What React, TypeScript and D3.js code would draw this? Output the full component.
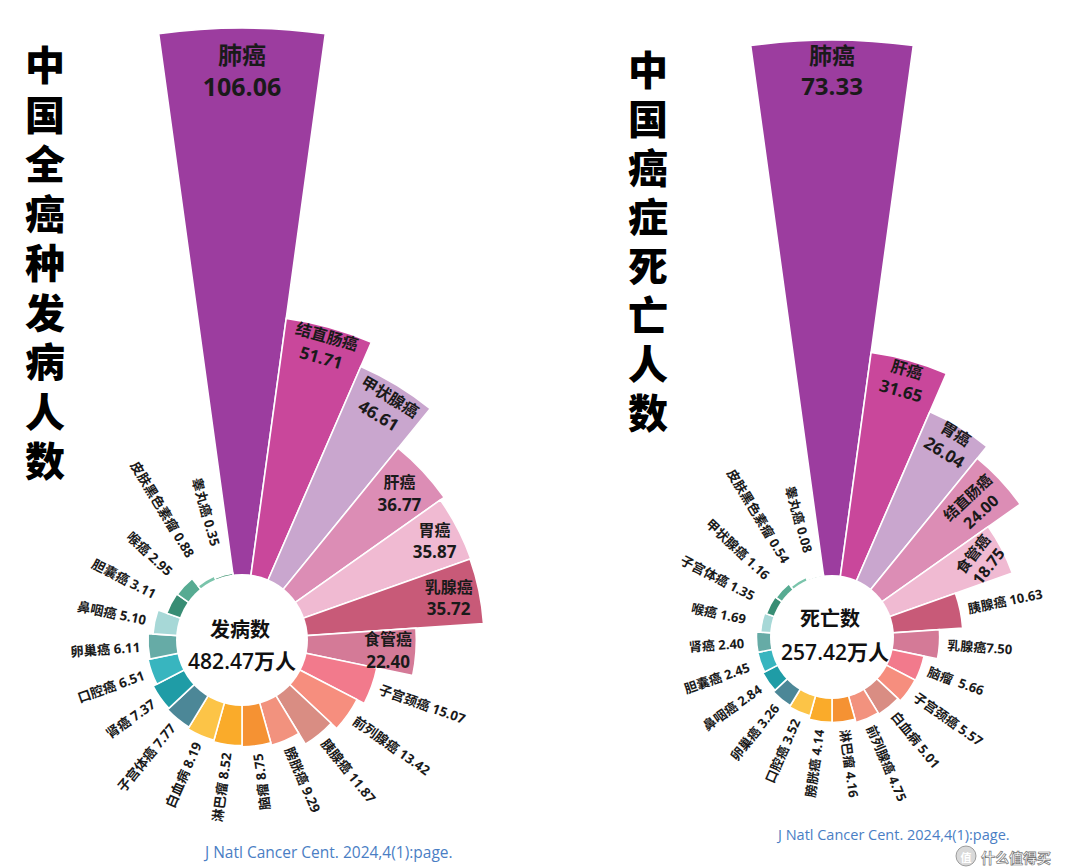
import React from 'react';
import * as d3 from 'd3';

const incidenceNames = ['肺癌','结直肠癌','甲状腺癌','肝癌','胃癌','乳腺癌','食管癌','子宫颈癌','前列腺癌','胰腺癌','膀胱癌','脑瘤','淋巴瘤','白血病','子宫体癌','肾癌','口腔癌','卵巢癌','鼻咽癌','胆囊癌','喉癌','皮肤黑色素瘤','睾丸癌'];
const incidenceValues = [106.06,51.71,46.61,36.77,35.87,35.72,22.40,15.07,13.42,11.87,9.29,8.75,8.52,8.19,7.77,7.37,6.51,6.11,5.10,3.11,2.95,0.88,0.35];
const incidenceLabels = ['106.06','51.71','46.61','36.77','35.87','35.72','22.40','15.07','13.42','11.87','9.29','8.75','8.52','8.19','7.77','7.37','6.51','6.11','5.10','3.11','2.95','0.88','0.35'];

const deathNames = ['肺癌','肝癌','胃癌','结直肠癌','食管癌','胰腺癌','乳腺癌','脑瘤','子宫颈癌','白血病','前列腺癌','淋巴瘤','膀胱癌','口腔癌','卵巢癌','鼻咽癌','胆囊癌','肾癌','喉癌','子宫体癌','甲状腺癌','皮肤黑色素瘤','睾丸癌'];
const deathValues = [73.33,31.65,26.04,24.00,18.75,10.63,7.50,5.66,5.57,5.01,4.75,4.16,4.14,3.52,3.26,2.84,2.45,2.40,1.69,1.35,1.16,0.54,0.08];
const deathLabels = ['73.33','31.65','26.04','24.00','18.75','10.63','7.50','5.66','5.57','5.01','4.75','4.16','4.14','3.52','3.26','2.84','2.45','2.40','1.69','1.35','1.16','0.54','0.08'];
const deathSeparators = [' ',' ',' ',' ',' ',' ','','  ',' ',' ',' ',' ',' ',' ',' ',' ',' ',' ',' ',' ',' ',' ',' '];

const palette = ['#9C3D9F','#C9479B','#C9A6CE','#DC8DB5','#F0BAD2','#C85A78','#D47A97','#F27A8C','#F68E7E','#D98D83','#F2927E','#F59233','#FAAB2A','#FCC447','#4C8797','#1F9CA6','#38B5BF','#66ABA6','#A7D8D7','#388D74','#57AB92','#7AC4AB','#2F8B66'];

const incidenceTitle = '中国全癌种发病人数';
const deathTitle = '中国癌症死亡人数';
const citation = 'J Natl Cancer Cent. 2024,4(1):page.';

const FONT = "'Open Sans', 'Noto Sans CJK SC', sans-serif";
const CJK = "'Noto Sans CJK SC', sans-serif";

type InnerCfg = { mode: 'h' | 'tan' | 'rad'; offset: number; size: number; rot?: number };

interface RoseProps {
  cx: number; cy: number;
  names: string[]; values: number[]; labels: string[]; seps?: string[];
  rScale: (v: number) => number;
  ri: number;
  inner: InnerCfg[];
  flipFrom: number;
  minLabelR: number;
  outerSize: number;
  centerTitle: string; centerValue: string;
  centerTitlePos: [number, number]; centerValuePos: [number, number];
}

function Rose(p: RoseProps) {
  const n = p.values.length;
  const angle = d3.scaleBand<number>().domain(d3.range(n)).range([0, 2 * Math.PI]);
  const step = angle.bandwidth();
  const arc = d3.arc<any>();
  const deg = (a: number) => (a * 180) / Math.PI;
  const pt = (a: number, r: number): [number, number] => [r * Math.sin(a), -r * Math.cos(a)];

  return (
    <g transform={`translate(${p.cx},${p.cy})`}>
      {p.values.map((v, i) => {
        const a0 = (angle(i) as number) - step / 2;
        const d = arc({ innerRadius: p.ri - 2, outerRadius: p.rScale(v), startAngle: a0, endAngle: a0 + step }) as string;
        return <path key={'b' + i} d={d} fill={palette[i]} stroke="#fff" strokeWidth={1.6} />;
      })}
      <circle r={p.ri} fill="#fff" />
      {p.values.map((v, i) => {
        const a = angle(i) as number;
        const ro = p.rScale(v);
        if (i < p.inner.length) {
          const c = p.inner[i];
          const [x, y] = pt(a, ro - c.offset);
          let rot = 0;
          if (c.mode === 'tan') rot = deg(a);
          if (c.mode === 'rad') rot = deg(a) - 90;
          if (c.rot !== undefined) rot = c.rot;
          const gap = c.size * 0.66;
          return (
            <text key={'l' + i} transform={`translate(${x},${y}) rotate(${rot})`} fontFamily={FONT} fontWeight={700} fill="#1a1a1a" textAnchor="middle" dominantBaseline="central">
              <tspan x={0} y={-gap} fontSize={c.size}>{p.names[i]}</tspan>
              <tspan x={0} y={gap} fontSize={c.size + 1}>{p.labels[i]}</tspan>
            </text>
          );
        }
        const lr = Math.max(ro, p.minLabelR) + 8;
        const [x, y] = pt(a, lr);
        const flip = i >= p.flipFrom;
        const rot = flip ? deg(a) + 90 : deg(a) - 90;
        const sep = p.seps ? p.seps[i] : ' ';
        return (
          <text key={'l' + i} transform={`translate(${x},${y}) rotate(${rot})`} textAnchor={flip ? 'end' : 'start'} dominantBaseline="central" fontFamily={FONT} fontWeight={700} fontSize={p.outerSize} fill="#1a1a1a" style={{ whiteSpace: 'pre' }}>
            {p.names[i] + sep + p.labels[i]}
          </text>
        );
      })}
      <text x={p.centerTitlePos[0]} y={p.centerTitlePos[1]} textAnchor="middle" dominantBaseline="central" fontFamily={CJK} fontWeight={700} fontSize={20} fill="#111">{p.centerTitle}</text>
      <text x={p.centerValuePos[0]} y={p.centerValuePos[1]} textAnchor="middle" dominantBaseline="central" fontFamily={FONT} fontWeight={600} fontSize={21} fill="#111">{p.centerValue}</text>
    </g>
  );
}

function VTitle({ x, y0, spacing, text }: { x: number; y0: number; spacing: number; text: string }) {
  return (
    <text x={x} y={y0} fontFamily={CJK} fontWeight={900} fontSize={40} fill="#000"
      style={{ writingMode: 'vertical-rl', letterSpacing: `${spacing}px` }}>
      {text}
    </text>
  );
}

export default function App() {
  const leftScale = d3.scalePow().exponent(1.04).domain([0, 106.06]).range([66, 612]);
  const rightScale = d3.scaleLinear().domain([0, 5.66, 73.33]).range([62, 94, 597]);

  const leftInner: InnerCfg[] = [
    { mode: 'h', offset: 42, size: 24 },
    { mode: 'tan', offset: 20, size: 16 },
    { mode: 'tan', offset: 24, size: 16 },
    { mode: 'h', offset: 32, size: 16 },
    { mode: 'h', offset: 26, size: 16 },
    { mode: 'h', offset: 31, size: 16 },
    { mode: 'h', offset: 28, size: 16 },
  ];
  const rightInner: InnerCfg[] = [
    { mode: 'h', offset: 30, size: 23 },
    { mode: 'tan', offset: 20, size: 16 },
    { mode: 'tan', offset: 18, size: 16 },
    { mode: 'rad', offset: 36, size: 15 },
    { mode: 'rad', offset: 24, size: 15, rot: -52 },
  ];

  return (
    <svg width={1080} height={868} style={{ position: 'absolute', left: 0, top: 0, background: '#fff' }}>
      <rect width={1080} height={868} fill="#fff" />
      <VTitle x={45} y0={45} spacing={9.5} text={incidenceTitle} />
      <VTitle x={648} y0={50} spacing={9} text={deathTitle} />
      <Rose cx={242} cy={640} names={incidenceNames} values={incidenceValues} labels={incidenceLabels}
        rScale={leftScale} ri={66} inner={leftInner} flipFrom={11} minLabelR={90} outerSize={13.3}
        centerTitle="发病数" centerValue="482.47万人" centerTitlePos={[-2, -12]} centerValuePos={[0, 21]} />
      <Rose cx={832} cy={637} names={deathNames} values={deathValues} labels={deathLabels} seps={deathSeparators}
        rScale={rightScale} ri={62} inner={rightInner} flipFrom={12} minLabelR={80} outerSize={13}
        centerTitle="死亡数" centerValue="257.42万人" centerTitlePos={[-2, -20]} centerValuePos={[3, 15]} />
      <text x={205} y={858} fontFamily={FONT} fontSize={15.5} fill="#4A7EC4">{citation}</text>
      <text x={778} y={840} fontFamily={FONT} fontSize={14.5} fill="#4A7EC4">{citation}</text>
      <g>
        <circle cx={966} cy={856} r={10} fill="#d9d9d9" stroke="#888" strokeWidth={0.8} />
        <text x={966} y={857} textAnchor="middle" dominantBaseline="central" fontFamily={CJK} fontWeight={700} fontSize={11} fill="#fff">值</text>
        <text x={981} y={857} dominantBaseline="central" fontFamily={CJK} fontWeight={700} fontSize={14} fill="#fff" stroke="#777" strokeWidth={0.7}>什么值得买</text>
      </g>
    </svg>
  );
}
